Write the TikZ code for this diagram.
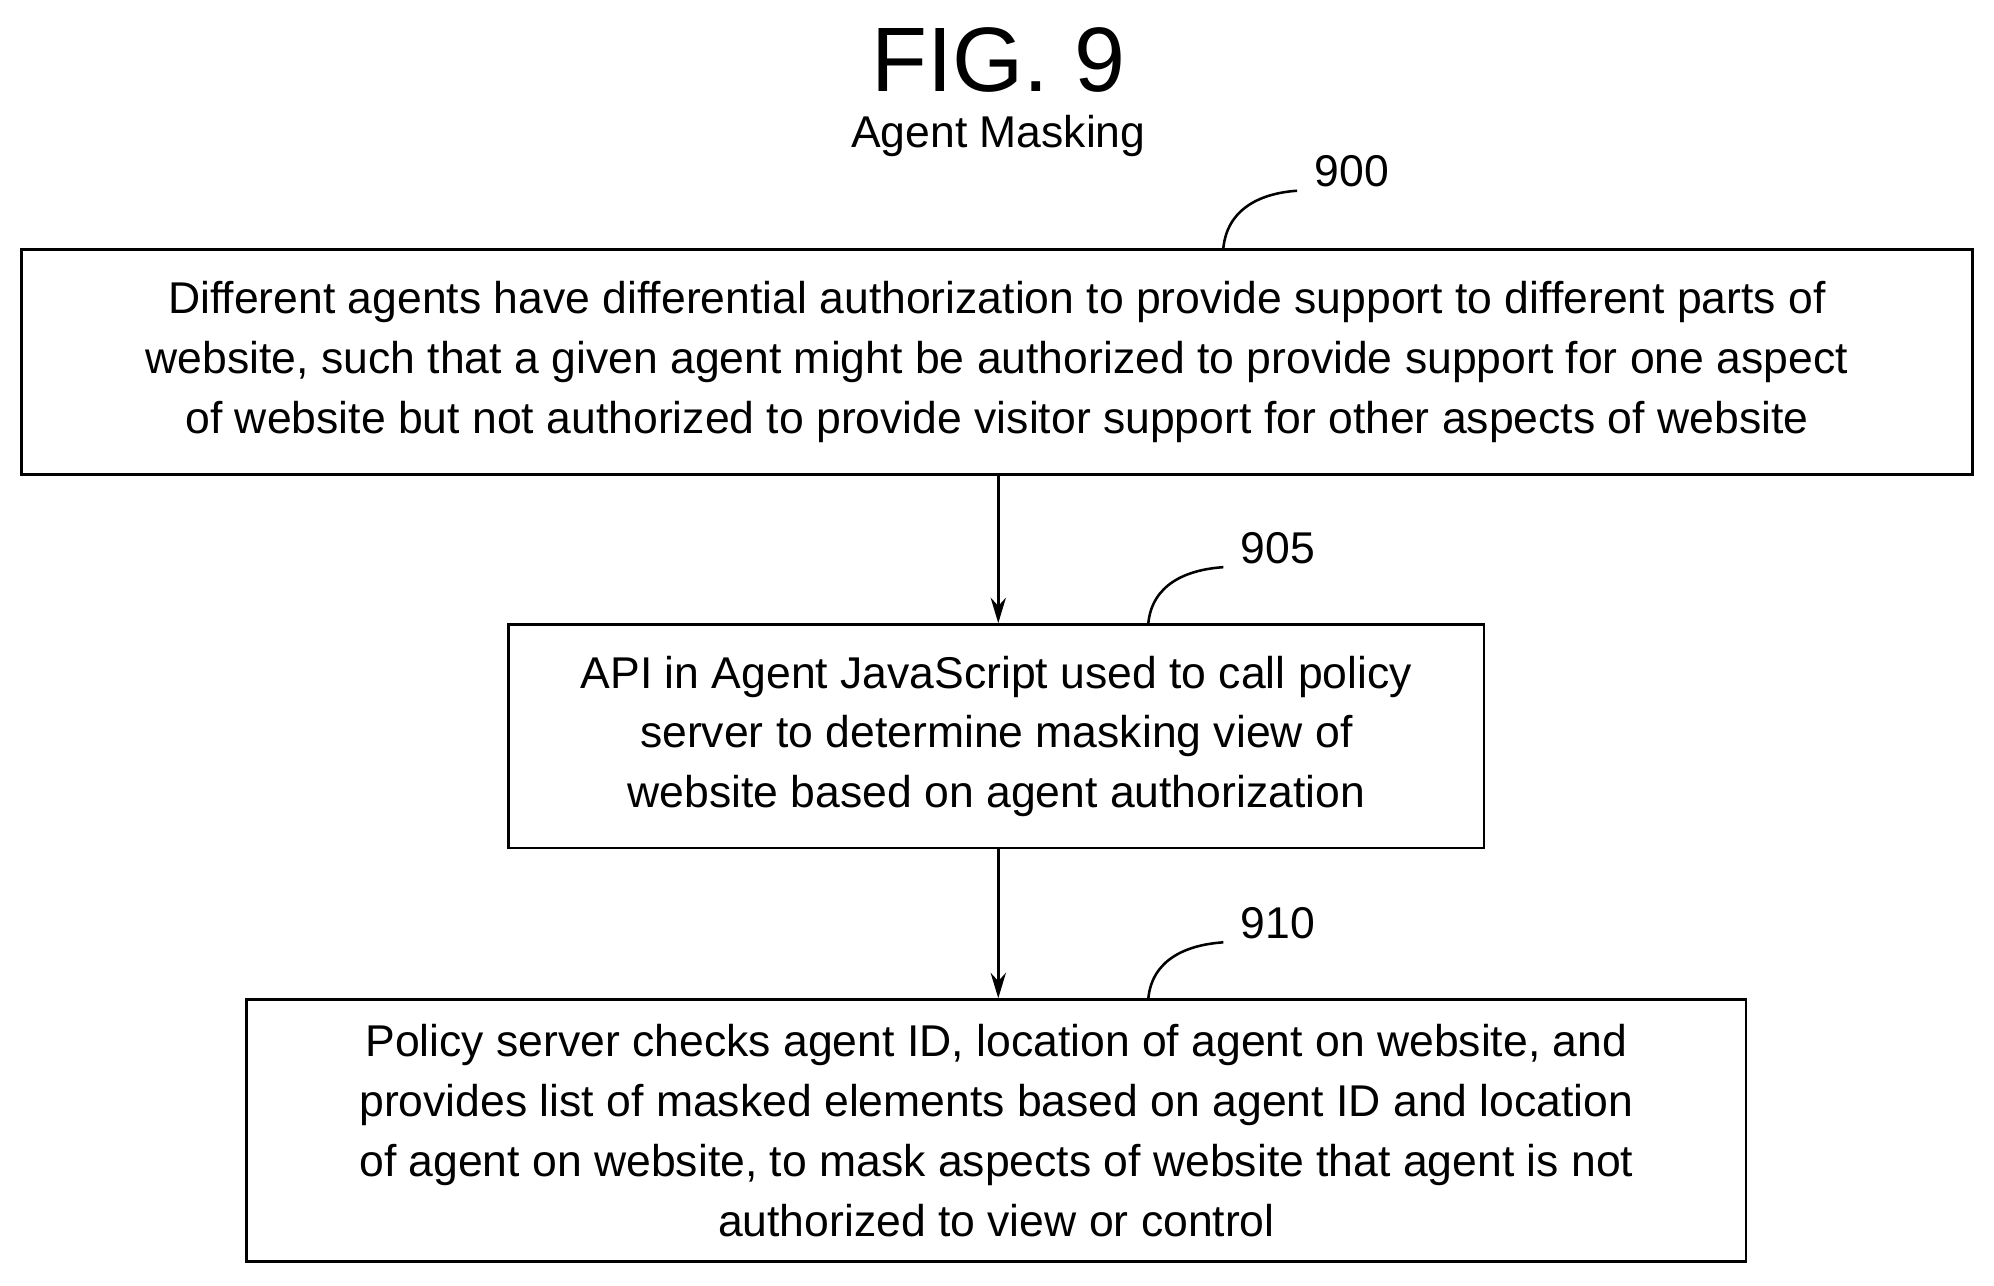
\documentclass[tikz,border=0pt]{standalone}
\usepackage{fontspec}
\setmainfont{Liberation Sans}
\usetikzlibrary{arrows.meta}
\begin{document}
\begin{tikzpicture}[x=1pt,y=-1pt,
  box/.style={draw,line width=2pt,align=center,font=\fontsize{35}{47}\selectfont,inner sep=0pt},
  arr/.style={line width=2pt,-{Stealth[length=20pt,width=12pt]}},
  lead/.style={line width=2pt},
  lbl/.style={font=\fontsize{35}{42}\selectfont}]
\useasboundingbox (0,0) rectangle (1568,1011);
\node[font=\fontsize{72}{80}\selectfont] (fig) at (785,47) {FIG. 9};
\node[font=\fontsize{35}{42}\selectfont] (sub) at (785,107) {Agent Masking};
\node[box,minimum width=1534pt,minimum height=177pt] (b1) at (784,284.5)
 {Different agents have differential authorization to provide support to different parts of\\
 website, such that a given agent might be authorized to provide support for one aspect\\
 of website but not authorized to provide visitor support for other aspects of website};
\node[box,minimum width=767pt,minimum height=176pt] (b2) at (783.5,579)
 {API in Agent JavaScript used to call policy\\server to determine masking view of\\website based on agent authorization};
\node[box,minimum width=1179pt,minimum height=206pt] (b3) at (783.5,889)
 {Policy server checks agent ID, location of agent on website, and\\
 provides list of masked elements based on agent ID and location\\
 of agent on website, to mask aspects of website that agent is not\\
 authorized to view or control};
\draw[arr] (b1.south -| 785,0) -- (b2.north -| 785,0);
\draw[arr] (b2.south -| 785,0) -- (b3.north -| 785,0);
\node[lbl] (l900) at (1063,135) {900};
\node[lbl] (l905) at (1005,431) {905};
\node[lbl] (l910) at (1005,726) {910};
\coordinate (c1) at (1020,150); \coordinate (c2) at (962,446); \coordinate (c3) at (962,741);
\draw[lead] (962,195) .. controls (965,165) and (990,152) .. (c1);
\draw[lead] (903,490) .. controls (906,460) and (932,448) .. (c2);
\draw[lead] (903,785) .. controls (906,755) and (932,743) .. (c3);
\end{tikzpicture}
\end{document}
